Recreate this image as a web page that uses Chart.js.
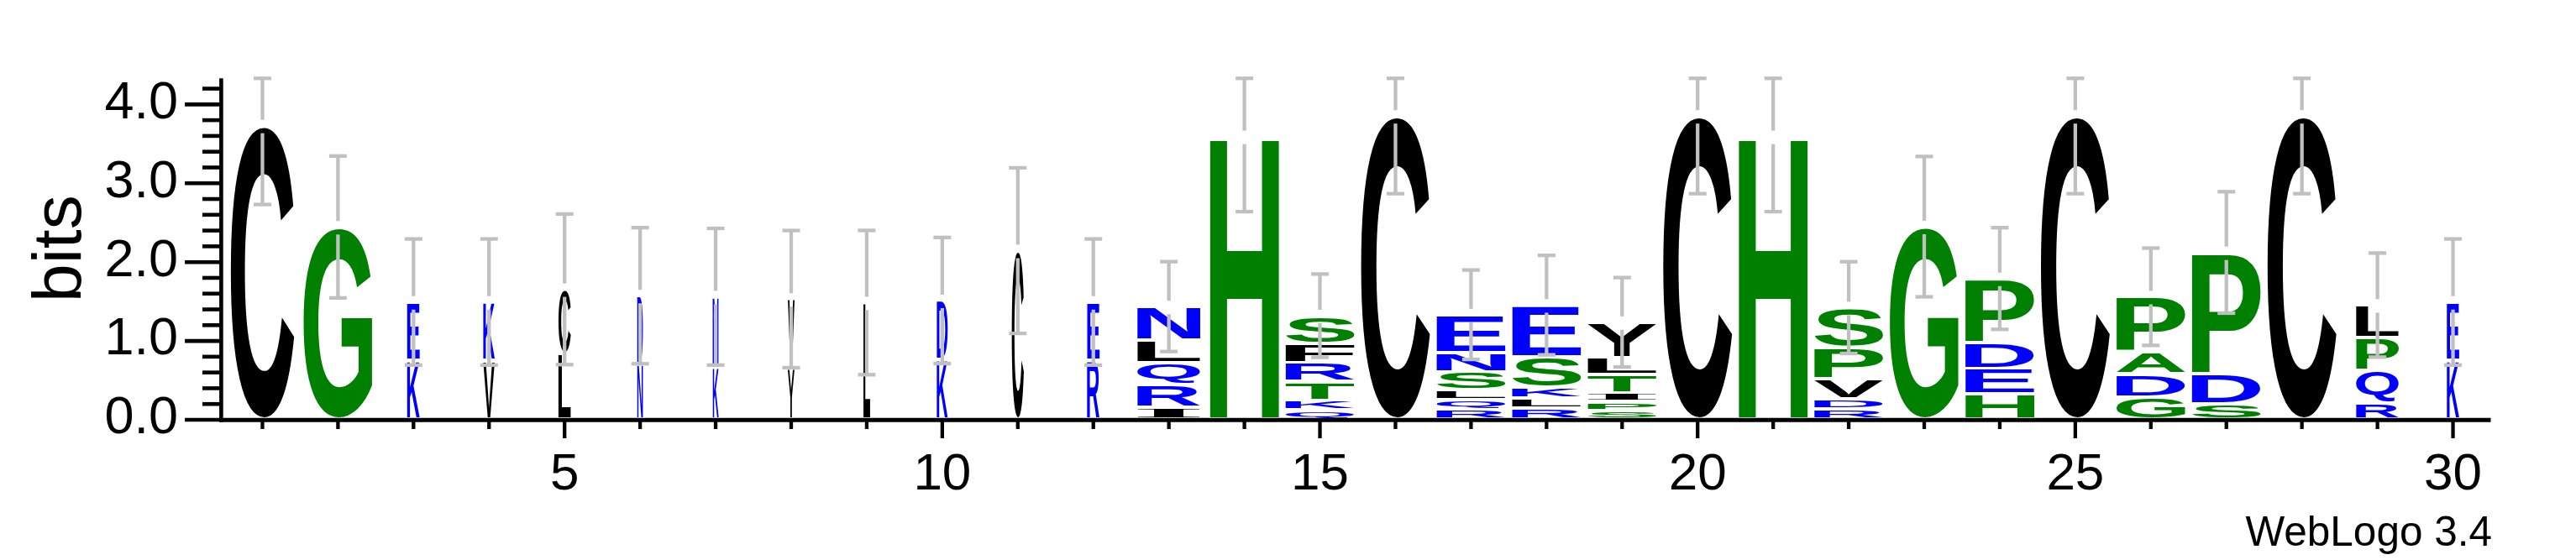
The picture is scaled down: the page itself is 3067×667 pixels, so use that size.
<!DOCTYPE html>
<html><head><meta charset="utf-8">
<script src="https://cdn.jsdelivr.net/npm/chart.js@4/dist/chart.umd.min.js"></script>
<style>html,body{margin:0;padding:0;background:#fff;}canvas{display:block;}</style>
</head><body>
<canvas id="c" width="3067" height="667" style="width:3067px;height:667px"></canvas>
<script>
// ---- data (each stack listed bottom -> top) ----
const positions = ['1','2','3','4','5','6','7','8','9','10','11','12','13','14','15',
  '16','17','18','19','20','21','22','23','24','25','26','27','28','29','30'];
const letters = [
  ['C'], ['G'], ['K','E'], ['V','K'], ['L','C'], ['N','D'], ['K','N'], ['Y','V'], ['L'], ['K','D'],
  ['C'], ['R','E'], ['I','R','Q','L','N'], ['H'], ['Q','K','T','R','F','S'],
  ['C'], ['R','Q','L','S','N','E'], ['R','L','K','S','E'], ['S','P','I','T','L','Y'], ['C'],
  ['H'], ['R','D','V','P','S'], ['G'], ['H','E','D','P'], ['C'],
  ['G','D','A','P'], ['S','D','P'], ['C'], ['R','Q','P','L'], ['K','E']
];
const bits = [
  [3.72], [2.435], [0.741,0.742], [0.741,0.742], [0.828,0.816], [0.703,0.86], [0.664,0.886], [0.64,0.88], [1.476], [0.751,0.751],
  [2.135], [0.741,0.742], [0.144,0.292,0.277,0.291,0.421], [3.582], [0.116,0.122,0.237,0.241,0.24,0.354],
  [3.842], [0.125,0.122,0.119,0.231,0.247,0.478], [0.138,0.129,0.134,0.392,0.651], [0.106,0.115,0.113,0.227,0.219,0.446], [3.842],
  [3.582], [0.128,0.125,0.257,0.395,0.507], [2.439], [0.318,0.324,0.331,0.808], [3.842],
  [0.279,0.289,0.279,0.703], [0.19,0.388,1.534], [3.842], [0.212,0.407,0.414,0.411], [0.741,0.742]
];
const stackWidth = [0.92,1,0.183,0.167,0.18,0.082,0.085,0.098,0.098,0.16,
  0.175,0.18,0.915,1,1,1,1,1,1,1,1,1,1,1,1,1,1,1,0.62,0.18];
const errorBar = [1.00,0.90,0.80,0.80,0.955,0.863,0.867,0.87,0.915,0.80,
  1.05,0.80,0.57,0.953,0.528,0.985,0.567,0.631,0.567,0.985,
  0.953,0.582,0.89,0.645,0.985,0.617,0.77,0.985,0.66,0.80];
const yTickLabels = ['0.0','1.0','2.0','3.0','4.0'];

// hydrophobicity colour scheme
const colorGroups = { '#0000ff':'RKDENQ', '#008000':'SGHTAP', '#000000':'YVMCLFIW' };
function colorOf(ch){ for (const c in colorGroups) if (colorGroups[c].includes(ch)) return c; return '#000'; }

const SANS = '"Liberation Sans", Arial, Helvetica, sans-serif';

function drawGlyph(ctx, ch, x0, y0, w, h){
  if (w <= 0.3 || h <= 0.3) return;
  const fam = ch === 'I' ? '"Liberation Serif", serif' : SANS;
  ctx.save();
  ctx.font = 'bold 200px ' + fam;
  ctx.textAlign = 'left'; ctx.textBaseline = 'alphabetic';
  const m = ctx.measureText(ch);
  const l = -m.actualBoundingBoxLeft, r = m.actualBoundingBoxRight;
  const t = -m.actualBoundingBoxAscent, b = m.actualBoundingBoxDescent;
  ctx.translate(x0, y0);
  ctx.scale(w/(r-l), h/(b-t));
  ctx.fillStyle = colorOf(ch);
  ctx.fillText(ch, -l, -t);
  ctx.restore();
}
function seg(ctx,x1,y1,x2,y2){ ctx.beginPath(); ctx.moveTo(x1,y1); ctx.lineTo(x2,y2); ctx.stroke(); }

const logoPlugin = {
  id:'logo',
  afterDatasetsDraw(chart){
    const ctx = chart.ctx, ys = chart.scales.y, xs = chart.scales.x;
    chart.data.datasets.forEach((ds,k)=>{
      const meta = chart.getDatasetMeta(k);
      meta.data.forEach((el,i)=>{
        const v = ds.data[i];
        if (v == null || !(v > 0)) return;
        const p = el.getProps(['x','y','base','width'], true);
        const w = p.width * stackWidth[i];
        const top = Math.min(p.y,p.base) + 2, bot = Math.max(p.y,p.base) - 2;
        drawGlyph(ctx, letters[i][k], p.x - w/2, top, w, bot - top);
      });
    });
    // error bars
    ctx.save();
    ctx.strokeStyle = '#c0c0c0'; ctx.lineWidth = 4.3; ctx.lineCap = 'butt';
    bits.forEach((s,i)=>{
      const total = s.reduce((a,b)=>a+b,0);
      const x = xs.getPixelForValue(i);
      const lo = ys.getPixelForValue(Math.max(0,total-errorBar[i]));
      const hi = ys.getPixelForValue(Math.min(ys.max,total+errorBar[i]));
      const mid = ys.getPixelForValue(total) + 1;
      seg(ctx,x,hi,x,Math.min(mid-8,lo));
      if (lo > mid+8) seg(ctx,x,mid+8,x,lo);
      seg(ctx,x-10.5,lo,x+10.5,lo);
      seg(ctx,x-10.5,hi,x+10.5,hi);
    });
    ctx.restore();
  },
  afterDraw(chart){
    const ctx = chart.ctx, ys = chart.scales.y, xs = chart.scales.x, ca = chart.chartArea;
    const ax = ca.left - 4.1, ay = ys.getPixelForValue(0) + 1.2;
    ctx.save();
    ctx.strokeStyle = '#000'; ctx.lineCap = 'butt';
    ctx.lineWidth = 4.6;
    seg(ctx, ax, ys.getPixelForValue(ys.max), ax, ay + 2.3);
    ctx.lineWidth = 5;
    seg(ctx, ax - 2.3, ay, ca.right, ay);
    // y ticks
    ctx.lineWidth = 4.6;
    for (let n = 0; n <= 21; n++){
      const v = n/5, yy = ys.getPixelForValue(v) + 1;
      seg(ctx, n % 5 === 0 ? ax - 43.3 : ax - 22.4, yy, ax, yy);
    }
    // x ticks
    ctx.lineWidth = 4.3;
    positions.forEach((lab,i)=>{
      const x = xs.getPixelForValue(i);
      seg(ctx, x, ay, x, (+lab) % 5 === 0 ? 522 : 511);
    });
    ctx.fillStyle = '#000';
    ctx.font = '49.5px ' + SANS;
    ctx.textAlign = 'right'; ctx.textBaseline = 'alphabetic';
    ctx.fillText('WebLogo 3.4', 2967, 650);
    ctx.restore();
  }
};

const maxLevels = Math.max(...letters.map(s=>s.length));
const datasets = [];
for (let k = 0; k < maxLevels; k++){
  datasets.push({
    label:'level '+(k+1),
    data: bits.map(s => s[k] === undefined ? null : s[k]),
    backgroundColor:'rgba(0,0,0,0)', borderWidth:0,
    categoryPercentage:1, barPercentage:0.912
  });
}

new Chart(document.getElementById('c'), {
  type:'bar',
  data:{ labels: positions, datasets },
  options:{
    responsive:false, animation:false, devicePixelRatio:1,
    layout:{ padding:{ top:50.37, right:101.5, bottom:0, left:0 } },
    plugins:{ legend:{display:false}, tooltip:{enabled:false} },
    scales:{
      x:{
        stacked:true, offset:true,
        grid:{display:false, drawTicks:false}, border:{display:false},
        ticks:{ autoSkip:false, maxRotation:0, minRotation:0, padding:30, color:'#000',
          font:{family:SANS, size:62},
          callback:function(v){ const l = this.getLabelForValue(v); return (+l) % 5 === 0 ? l : ''; } },
        afterFit:(s)=>{ s.height = 168; }
      },
      y:{
        stacked:true, min:0, max:4.32,
        grid:{display:false, drawTicks:false}, border:{display:false},
        ticks:{ stepSize:1, includeBounds:false, padding:55.5, color:'#000',
          font:{family:SANS, size:63},
          callback:(v)=> yTickLabels[Math.round(v)] },
        title:{ display:true, text:'bits', color:'#000', font:{family:SANS, size:82, lineHeight:1},
          padding:{top:32.6, bottom:0} },
        afterFit:(s)=>{ s.width = 267.5; }
      }
    }
  },
  plugins:[logoPlugin]
});
</script>
</body></html>
